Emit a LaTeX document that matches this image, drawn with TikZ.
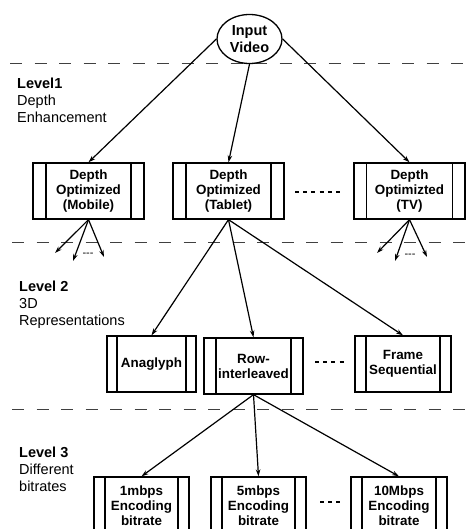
\documentclass[tikz,border=0pt]{standalone}
\usepackage{fontspec}
\setmainfont{Liberation Sans}
\usetikzlibrary{arrows.meta,shapes.geometric}
\newcommand{\boxfont}{\fontsize{13.4}{15}\selectfont\bfseries}
\newcommand{\lblfont}{\fontsize{14.5}{17}\selectfont}
\begin{document}
\begin{tikzpicture}[x=1pt,y=-1pt,
  procbox/.style={draw, line width=1.3pt, rectangle, inner sep=0pt, align=center, font=\boxfont,
    path picture={\draw[line width=1.3pt]
      ([xshift=#1]path picture bounding box.north west) -- ([xshift=#1]path picture bounding box.south west)
      ([xshift=-#1]path picture bounding box.north east) -- ([xshift=-#1]path picture bounding box.south east);}},
  procbox/.default=11.5pt,
  arr/.style={-{Stealth[length=7pt,width=4.5pt]}, line width=1.2pt},
  sep/.style={dash pattern=on 12pt off 12.5pt, line width=1pt, black!75},
  filler/.style={dash pattern=on 4pt off 4.2pt, line width=1.6pt},
  lbl/.style={anchor=north west, align=left, inner sep=0pt, font=\lblfont},
  tiny/.style={font=\fontsize{11}{12}\selectfont, inner sep=0pt}]
\useasboundingbox (0,0) rectangle (466,529);

% separators
\draw[sep] (10,64) -- (466,64);
\draw[sep] (12,242) -- (466,242);
\draw[sep] (12,409) -- (466,409);

% level labels
\node[lbl] (l1) at (17,78) {\textbf{Level1}\\Depth\\Enhancement};
\node[lbl] (l2) at (19,281) {\textbf{Level 2}\\3D\\Representations};
\node[lbl] (l3) at (19,447) {\textbf{Level 3}\\Different\\bitrates};

% root
\node[draw, ellipse, line width=1.3pt, minimum width=65pt, minimum height=49pt, inner sep=0pt,
      align=center, font=\fontsize{14.5}{17}\selectfont\bfseries, fill=white] (iv) at (249.5,39) {Input\\Video};

% level 1
\node[procbox=13pt, minimum width=111pt, minimum height=56pt] (m1) at (88.5,191) {Depth\\Optimized\\(Mobile)};
\node[procbox=13pt, minimum width=111pt, minimum height=56pt] (m2) at (228.5,191) {Depth\\Optimized\\(Tablet)};
\node[procbox=12.5pt, minimum width=111pt, minimum height=56pt] (m3) at (409.5,191) {Depth\\Optimizted\\(TV)};

% level 2
\node[procbox=10pt, minimum width=89pt, minimum height=56pt] (r1) at (151.5,364) {Anaglyph};
\node[procbox=12pt, minimum width=99pt, minimum height=56pt] (r2) at (253.5,366) {Row-\\interleaved};
\node[procbox=11pt, minimum width=96pt, minimum height=56pt] (r3) at (403,364) {Frame\\Sequential};

% level 3
\node[procbox=11pt, minimum width=95pt, minimum height=58pt] (b1) at (141.5,506) {1mbps\\Encoding\\bitrate};
\node[procbox=11pt, minimum width=95pt, minimum height=58pt] (b2) at (258.5,506) {5mbps\\Encoding\\bitrate};
\node[procbox=11pt, minimum width=96pt, minimum height=58pt] (b3) at (399,506) {10Mbps\\Encoding\\bitrate};

% connectors
\draw[arr] (iv.west) -- (m1.north);
\draw[arr] (iv.south) -- (m2.north);
\draw[arr] (iv.east) -- (m3.north);

\draw[arr] (m2.south) -- (r1.north);
\draw[arr] (m2.south) -- (r2.north);
\draw[arr] (m2.south) -- (r3.north);

\draw[arr] (r2.south) -- (b1.north);
\draw[arr] (r2.south) -- (b2.north);
\draw[arr] (r2.south) -- (b3.north);

% small branching arrows
\coordinate (a1) at (55,253);
\coordinate (a2) at (73,261);
\coordinate (a3) at (104,257);
\coordinate (c1) at (377,253);
\coordinate (c2) at (395,261);
\coordinate (c3) at (427,257);
\draw[arr] (m1.south) -- (a1);
\draw[arr] (m1.south) -- (a2);
\draw[arr] (m1.south) -- (a3);
\draw[arr] (m3.south) -- (c1);
\draw[arr] (m3.south) -- (c2);
\draw[arr] (m3.south) -- (c3);
\node[tiny] (d1) at (88,255) {-{}-{}-};
\node[tiny] (d2) at (410,256) {-{}-{}-};

% fillers between boxes
\draw[filler] (295,192) -- (341,192);
\draw[filler] (315,362) -- (344,362);
\draw[filler] (320,502) -- (341,502);
\end{tikzpicture}
\end{document}
